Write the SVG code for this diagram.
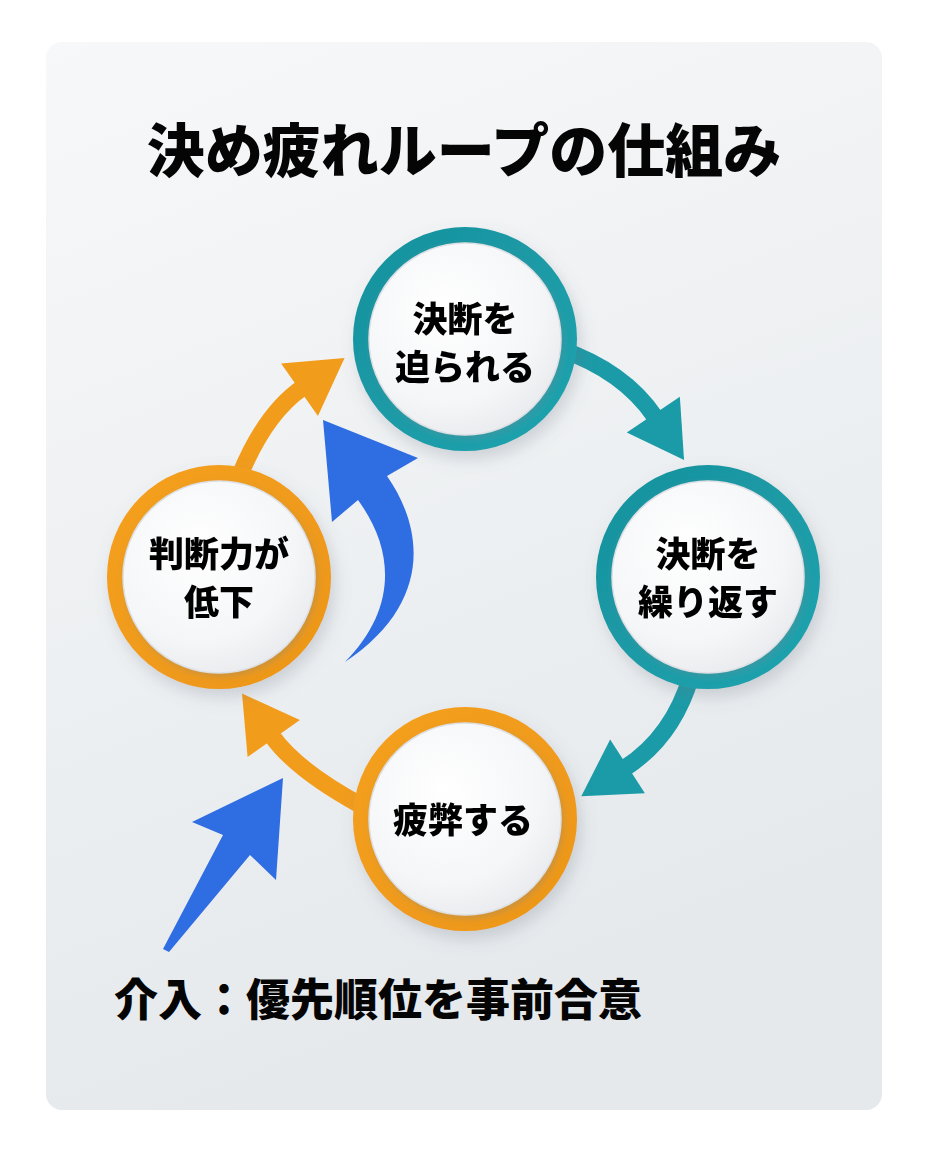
<svg xmlns="http://www.w3.org/2000/svg" width="928" height="1152" viewBox="0 0 928 1152">
<style>
.t{font-family:"Noto Sans CJK JP","Noto Sans CJK SC",sans-serif;font-weight:900;fill:#050505;text-anchor:middle}
.lbl{font-size:35px}
.shaft{fill:none;stroke-width:17;stroke-linecap:butt}
</style>
<defs>
<linearGradient id="card" x1="0" y1="0" x2="0.3" y2="1">
<stop offset="0" stop-color="#f7f8f9"/><stop offset="1" stop-color="#e5e9ec"/>
</linearGradient>
<radialGradient id="disc" cx="0.4" cy="0.35" r="0.7">
<stop offset="0" stop-color="#ffffff"/><stop offset="0.7" stop-color="#f5f6f8"/><stop offset="1" stop-color="#e8eaed"/>
</radialGradient>
<linearGradient id="teal" x1="0" y1="0" x2="1" y2="1">
<stop offset="0" stop-color="#17929e"/><stop offset="1" stop-color="#1fa3ae"/>
</linearGradient>
<linearGradient id="orange" x1="0" y1="0" x2="1" y2="1">
<stop offset="0" stop-color="#f4a01f"/><stop offset="1" stop-color="#ec9618"/>
</linearGradient>
<filter id="sh" x="-30%" y="-30%" width="160%" height="160%">
<feDropShadow dx="4" dy="8" stdDeviation="8" flood-color="#6a7480" flood-opacity="0.25"/>
</filter>
<filter id="sh2" x="-30%" y="-30%" width="160%" height="160%">
<feDropShadow dx="2" dy="3" stdDeviation="3" flood-color="#7a8490" flood-opacity="0.3"/>
</filter>
<marker id="ahT" markerUnits="userSpaceOnUse" markerWidth="60" markerHeight="70" viewBox="0 -35 60 70" refX="3" refY="0" orient="auto" overflow="visible">
<path d="M0,-32 L55,0 L0,32 Z" fill="#1b9ba7"/>
</marker>
<marker id="ahO" markerUnits="userSpaceOnUse" markerWidth="60" markerHeight="70" viewBox="0 -35 60 70" refX="3" refY="0" orient="auto" overflow="visible">
<path d="M0,-32 L55,0 L0,32 Z" fill="#f29c1c"/>
</marker>
</defs>

<rect x="0" y="0" width="928" height="1152" fill="#ffffff"/>
<rect x="46" y="42" width="836" height="1068" rx="16" fill="url(#card)"/>

<text class="t" x="464" y="172" font-size="58">決め疲れループの仕組み</text>

<g id="connectors">
<path class="shaft" stroke="#1b9ba7" d="M560,349 Q624,371 655,417" marker-end="url(#ahT)"/>
<path class="shaft" stroke="#1b9ba7" d="M691,676 Q673,737 625,768" marker-end="url(#ahT)"/>
<path class="shaft" stroke="#f29c1c" d="M362,806 Q296,770 272,736" marker-end="url(#ahO)"/>
<path class="shaft" stroke="#f29c1c" d="M240,475 Q265,414 302,388" marker-end="url(#ahO)"/>
<path id="blue-curve" fill="#2f6de3" d="M323,420 L418,458 L387,476 C426,532 430,605 345,662 C396,610 396,552 358,500 L332,522 Z"/>
<path id="blue-straight" fill="#2f6de3" d="M283,778 L276,880 L250,855 L169,952 L163,949 L223,835 L192,822 Z"/>
</g>

<g id="node-top" filter="url(#sh)">
<circle cx="465" cy="339" r="104" fill="none" stroke="url(#teal)" stroke-width="16"/>
<circle cx="465" cy="339" r="96" fill="url(#disc)" stroke="#dde0e4" stroke-width="1.5" filter="url(#sh2)"/>
<text class="t lbl" x="465" y="332">決断を</text>
<text class="t lbl" x="465" y="380">迫られる</text>
</g>

<g id="node-right" filter="url(#sh)">
<circle cx="708" cy="577" r="104" fill="none" stroke="url(#teal)" stroke-width="16"/>
<circle cx="708" cy="577" r="96" fill="url(#disc)" stroke="#dde0e4" stroke-width="1.5" filter="url(#sh2)"/>
<text class="t lbl" x="708" y="567">決断を</text>
<text class="t lbl" x="708" y="615">繰り返す</text>
</g>

<g id="node-bottom" filter="url(#sh)">
<circle cx="465" cy="819" r="104" fill="none" stroke="url(#orange)" stroke-width="16"/>
<circle cx="465" cy="819" r="96" fill="url(#disc)" stroke="#dde0e4" stroke-width="1.5" filter="url(#sh2)"/>
<text class="t lbl" x="463" y="833">疲弊する</text>
</g>

<g id="node-left" filter="url(#sh)">
<circle cx="219" cy="577" r="104" fill="none" stroke="url(#orange)" stroke-width="16"/>
<circle cx="219" cy="577" r="96" fill="url(#disc)" stroke="#dde0e4" stroke-width="1.5" filter="url(#sh2)"/>
<text class="t lbl" x="219" y="567">判断力が</text>
<text class="t lbl" x="219" y="615">低下</text>
</g>

<text class="t" x="378" y="1016" font-size="44">介入：優先順位を事前合意</text>
</svg>
